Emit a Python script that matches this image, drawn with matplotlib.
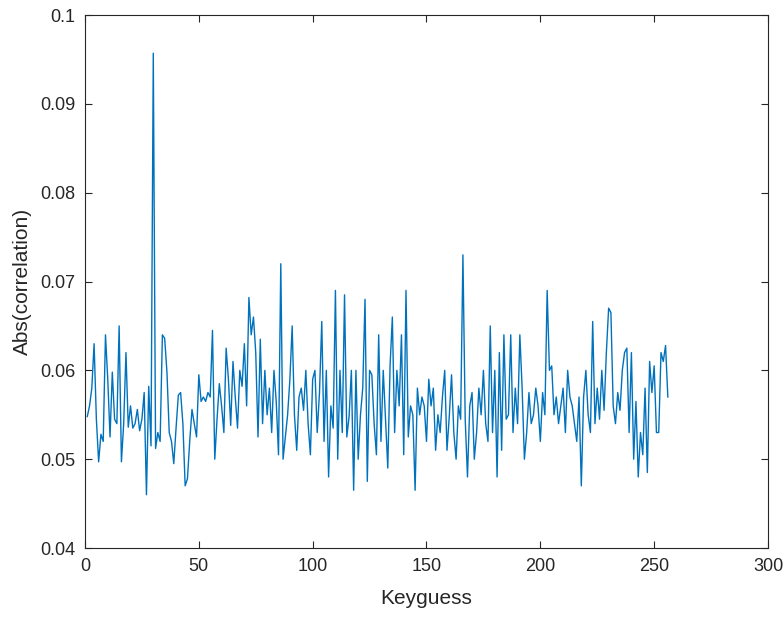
import numpy as np
import matplotlib
matplotlib.use("Agg")
import matplotlib.pyplot as plt

# Abs(correlation) for each key guess 1..256
corr = [
    0.0548, 0.0560, 0.0580, 0.0630, 0.0545, 0.0497, 0.0528, 0.0520, 0.0640, 0.0590, 0.0525, 0.0598, 0.0545, 0.0540, 0.0650, 0.0497,
    0.0540, 0.0620, 0.0536, 0.0560, 0.0535, 0.0540, 0.0556, 0.0532, 0.0545, 0.0575, 0.0460, 0.0582, 0.0515, 0.0957, 0.0512, 0.0530,
    0.0520, 0.0640, 0.0636, 0.0598, 0.0530, 0.0520, 0.0495, 0.0535, 0.0572, 0.0575, 0.0540, 0.0470, 0.0478, 0.0520, 0.0556, 0.0540,
    0.0525, 0.0595, 0.0565, 0.0570, 0.0565, 0.0575, 0.0570, 0.0645, 0.0500, 0.0545, 0.0585, 0.0560, 0.0530, 0.0625, 0.0590, 0.0538,
    0.0610, 0.0570, 0.0535, 0.0600, 0.0582, 0.0630, 0.0560, 0.0682, 0.0640, 0.0660, 0.0620, 0.0525, 0.0635, 0.0540, 0.0600, 0.0550,
    0.0580, 0.0530, 0.0600, 0.0565, 0.0505, 0.0720, 0.0500, 0.0525, 0.0550, 0.0590, 0.0650, 0.0550, 0.0510, 0.0570, 0.0580, 0.0555,
    0.0600, 0.0540, 0.0505, 0.0590, 0.0600, 0.0530, 0.0575, 0.0655, 0.0520, 0.0600, 0.0480, 0.0560, 0.0535, 0.0690, 0.0500, 0.0600,
    0.0530, 0.0685, 0.0525, 0.0548, 0.0600, 0.0465, 0.0600, 0.0500, 0.0550, 0.0580, 0.0680, 0.0475, 0.0600, 0.0595, 0.0540, 0.0505,
    0.0640, 0.0520, 0.0600, 0.0545, 0.0490, 0.0605, 0.0660, 0.0530, 0.0600, 0.0560, 0.0640, 0.0505, 0.0690, 0.0525, 0.0560, 0.0550,
    0.0465, 0.0580, 0.0550, 0.0570, 0.0560, 0.0520, 0.0590, 0.0560, 0.0580, 0.0510, 0.0550, 0.0530, 0.0570, 0.0600, 0.0510, 0.0548,
    0.0595, 0.0530, 0.0500, 0.0560, 0.0545, 0.0730, 0.0545, 0.0480, 0.0560, 0.0575, 0.0500, 0.0530, 0.0580, 0.0550, 0.0600, 0.0540,
    0.0520, 0.0650, 0.0530, 0.0600, 0.0480, 0.0620, 0.0510, 0.0640, 0.0545, 0.0550, 0.0640, 0.0530, 0.0580, 0.0540, 0.0640, 0.0580,
    0.0500, 0.0530, 0.0575, 0.0540, 0.0550, 0.0580, 0.0560, 0.0520, 0.0575, 0.0550, 0.0690, 0.0600, 0.0605, 0.0550, 0.0570, 0.0540,
    0.0560, 0.0580, 0.0530, 0.0600, 0.0570, 0.0560, 0.0540, 0.0520, 0.0570, 0.0470, 0.0570, 0.0600, 0.0550, 0.0530, 0.0655, 0.0540,
    0.0580, 0.0545, 0.0600, 0.0555, 0.0620, 0.0670, 0.0665, 0.0560, 0.0540, 0.0575, 0.0555, 0.0600, 0.0620, 0.0625, 0.0530, 0.0620,
    0.0500, 0.0565, 0.0480, 0.0530, 0.0505, 0.0580, 0.0485, 0.0610, 0.0575, 0.0605, 0.0530, 0.0530, 0.0620, 0.0610, 0.0628, 0.0570,
]
keyguess = np.arange(1, len(corr) + 1)

xticks = [0, 50, 100, 150, 200, 250, 300]
yticks = [0.04, 0.05, 0.06, 0.07, 0.08, 0.09, 0.1]
ytick_labels = ["0.04", "0.05", "0.06", "0.07", "0.08", "0.09", "0.1"]

plt.rcParams['font.family'] = ['Liberation Sans', 'DejaVu Sans']

fig = plt.figure(figsize=(7.84, 6.2), dpi=100)
ax = fig.add_axes([0.1084, 0.1161, 0.8712, 0.8597])

ax.plot(keyguess, corr, color='#0072BD', linewidth=1.0)

ax.set_xlim(0, 300)
ax.set_ylim(0.04, 0.1)
ax.set_xticks(xticks)
ax.set_yticks(yticks)
ax.set_yticklabels(ytick_labels)

# MATLAB-like axes: inward ticks on all sides, dark grey frame
dark = '#262626'
ax.tick_params(direction='in', top=True, right=True, length=5, width=0.8,
               colors=dark, labelsize=13, pad=7)
for s in ax.spines.values():
    s.set_color(dark)
    s.set_linewidth(0.8)

ax.set_xlabel("Keyguess", fontsize=15, color=dark, labelpad=10)
ax.set_ylabel("Abs(correlation)", fontsize=15, color=dark, labelpad=6)

fig.savefig("out.png", dpi=100)
